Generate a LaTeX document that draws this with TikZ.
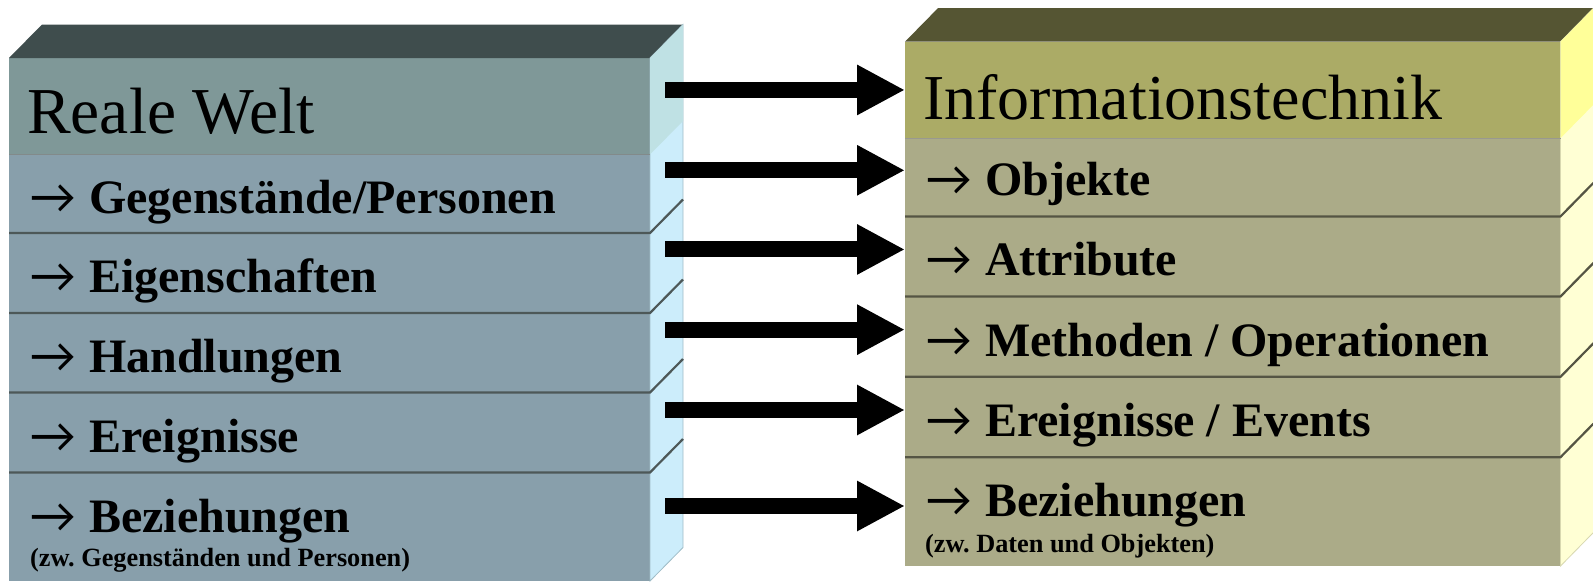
\documentclass[tikz,border=0pt]{standalone}
\usepackage{fontspec}
\setmainfont{Liberation Serif}
\newfontfamily\arrowfont{Carlito}
\usetikzlibrary{arrows.meta,calc}

\definecolor{lTop}{HTML}{3F4D4D}
\definecolor{lHead}{HTML}{7F9898}
\definecolor{lRow}{HTML}{889FAB}
\definecolor{lSideHead}{HTML}{BFE1E4}
\definecolor{lSide}{HTML}{CCEDFB}
\definecolor{lSep}{HTML}{4D5858}
\definecolor{lEdge}{HTML}{9FBCC6}
\definecolor{rTop}{HTML}{555533}
\definecolor{rHead}{HTML}{ABAB66}
\definecolor{rRow}{HTML}{ABAB88}
\definecolor{rSideHead}{HTML}{FFFF99}
\definecolor{rSide}{HTML}{FFFFD4}
\definecolor{rSep}{HTML}{555544}
\definecolor{rEdge}{HTML}{D8D8B0}

% bullet arrow in front of each item, followed by a fixed gap
\newcommand{\itemarrow}{\makebox[60pt][l]{\hspace{1.5pt}{\arrowfont\mdseries\fontsize{50}{50}\selectfont →}}}

\tikzset{
  face/.style={rectangle, inner sep=0pt, outer sep=0pt, anchor=north west},
  lface/.style={face, minimum width=641pt},
  rface/.style={face, minimum width=655.5pt},
  sepline/.style={line width=2.2pt},
  thinsep/.style={line width=0.8pt},
  headtext/.style={inner sep=0pt, anchor=base west, font=\fontsize{65.5}{65.5}\selectfont},
  itemtext/.style={inner sep=0pt, anchor=base west, font=\fontsize{48}{48}\selectfont\bfseries},
  notetext/.style={inner sep=0pt, anchor=base west, font=\fontsize{26.3}{26.3}\selectfont\bfseries},
  bigarrow/.style={draw=black, line width=16pt, -{Triangle[length=48pt,width=47pt]}},
}

\begin{document}
\frenchspacing
\begin{tikzpicture}[x=1pt,y=-1pt]
\useasboundingbox (0,0) rectangle (1593,581);

% ---------- left block: Reale Welt ----------
\node[lface, fill=lHead, minimum height=96.5pt] (L0) at (9,58) {};
\node[lface, fill=lRow, minimum height=78.5pt]  (L1) at (9,154.5) {};
\node[lface, fill=lRow, minimum height=80pt]    (L2) at (9,233) {};
\node[lface, fill=lRow, minimum height=79.5pt]  (L3) at (9,313) {};
\node[lface, fill=lRow, minimum height=80pt]    (L4) at (9,392.5) {};
\node[lface, fill=lRow, minimum height=108.5pt] (L5) at (9,472.5) {};

\fill[lTop] (L0.north west) -- ++(33,-33.5) -- ([shift={(33,-33.5)}]L0.north east) -- (L0.north east) -- cycle;
\filldraw[fill=lSide, draw=lEdge, line width=0.8pt]
  (L0.north east) -- ++(33,-33.5) -- ([shift={(33,-33.5)}]L5.south east) -- (L5.south east) -- cycle;
\fill[lSideHead] (L0.north east) -- ++(33,-33.5) -- ([shift={(33,-33.5)}]L0.south east) -- (L0.south east) -- cycle;

\draw[thinsep, draw=lSep!70] (L1.north west) -- (L1.north east);
\foreach \r in {L2,L3,L4,L5}
  \draw[sepline, draw=lSep] (\r.north west) -- (\r.north east) -- ++(33,-33.5);

% ---------- right block: Informationstechnik ----------
\node[rface, fill=rHead, minimum height=96.5pt] (R0) at (905,41.7) {};
\node[rface, fill=rRow, minimum height=78.2pt]  (R1) at (905,138.2) {};
\node[rface, fill=rRow, minimum height=80.1pt]  (R2) at (905,216.4) {};
\node[rface, fill=rRow, minimum height=80.3pt]  (R3) at (905,296.5) {};
\node[rface, fill=rRow, minimum height=80.4pt]  (R4) at (905,376.8) {};
\node[rface, fill=rRow, minimum height=108.8pt] (R5) at (905,457.2) {};

\fill[rTop] (R0.north west) -- ++(33,-33.6) -- ([shift={(33,-33.6)}]R0.north east) -- (R0.north east) -- cycle;
\filldraw[fill=rSide, draw=rEdge, line width=0.8pt]
  (R0.north east) -- ++(33,-33.6) -- ([shift={(33,-33.6)}]R5.south east) -- (R5.south east) -- cycle;
\fill[rSideHead] (R0.north east) -- ++(33,-33.6) -- ([shift={(33,-33.6)}]R0.south east) -- (R0.south east) -- cycle;

\draw[thinsep, draw=rSep!60] (R1.north west) -- (R1.north east);
\foreach \r in {R2,R3,R4,R5}
  \draw[sepline, draw=rSep] (\r.north west) -- (\r.north east) -- ++(33,-33.6);

% ---------- labels ----------
\node[headtext] (tL0) at (27,133) {Reale Welt};
\node[itemtext] (tL1) at (29,213)   {\itemarrow Gegenstände/Personen};
\node[itemtext] (tL2) at (29,292)   {\itemarrow Eigenschaften};
\node[itemtext] (tL3) at (29,372)   {\itemarrow Handlungen};
\node[itemtext] (tL4) at (29,452)   {\itemarrow Ereignisse};
\node[itemtext] (tL5) at (29,532)   {\itemarrow Beziehungen};
\node[notetext] (nL5) at (30,566)   {(zw. Gegenständen und Personen)};

\node[headtext, font=\fontsize{64}{64}\selectfont] (tR0) at (923,119) {Informationstechnik};
\node[itemtext] (tR1) at (925,195)   {\itemarrow Objekte};
\node[itemtext] (tR2) at (925,275.7) {\itemarrow Attribute};
\node[itemtext] (tR3) at (925,356.3) {\itemarrow Methoden / Operationen};
\node[itemtext] (tR4) at (925,436.7) {\itemarrow Ereignisse / Events};
\node[itemtext] (tR5) at (925,516)   {\itemarrow Beziehungen};
\node[notetext] (nR5) at (925,552.7) {(zw. Daten und Objekten)};

% ---------- mapping arrows ----------
\coordinate (tail) at (665,0);
\coordinate (h0) at (R0.west);
\coordinate (h1) at ([yshift=7pt]R1.west);
\coordinate (h2) at ([yshift=7pt]R2.west);
\coordinate (h3) at ([yshift=7pt]R3.west);
\coordinate (h4) at ([yshift=7pt]R4.west);
\coordinate (h5) at ([yshift=5.6pt]R5.west);
\foreach \h in {h0,h1,h2,h3,h4,h5}
  \draw[bigarrow] (tail |- \h) -- (\h);
\end{tikzpicture}
\end{document}
